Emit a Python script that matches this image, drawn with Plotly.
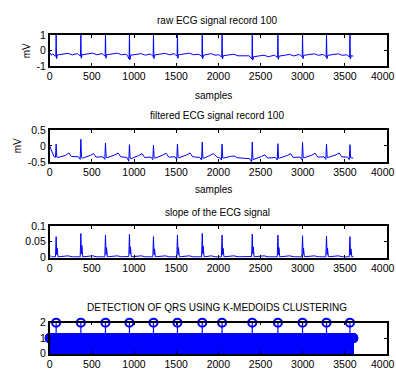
import plotly.graph_objects as go

# ---------------- data ----------------
x_ticks = [0, 500, 1000, 1500, 2000, 2500, 3000, 3500]
x_last_tick = 4000   # label sits at the figure's right edge, as in the picture
n_samples = 3600

# R-peak sample positions (QRS detections)
qrs_samples = [77, 370, 662, 946, 1231, 1515, 1809, 2044, 2402, 2706, 2998, 3282, 3560]

# raw ECG (mV), polyline vertices
raw_x = [0, 10, 20,
         37, 52, 73, 77, 82, 92, 217, 267,
         330, 345, 366, 370, 375, 385, 510, 560,
         622, 637, 658, 662, 667, 677, 802, 852,
         906, 921, 942, 946, 951, 961, 1086, 1136,
         1191, 1206, 1227, 1231, 1236, 1246, 1371, 1421,
         1475, 1490, 1511, 1515, 1520, 1530, 1655, 1705,
         1769, 1784, 1805, 1809, 1814, 1824, 1919, 1960,
         2004, 2019, 2040, 2044, 2049, 2059, 2184, 2234,
         2362, 2377, 2398, 2402, 2407, 2417, 2542, 2592,
         2666, 2681, 2702, 2706, 2711, 2721, 2846, 2896,
         2958, 2973, 2994, 2998, 3003, 3013, 3138, 3188,
         3242, 3257, 3278, 3282, 3287, 3297, 3422, 3472,
         3520, 3535, 3556, 3560, 3565, 3575, 3599]
raw_y = [-0.12, -0.28, -0.30,
         -0.22, -0.28, -0.38, 1.0, -0.52, -0.28, -0.18, -0.28,
         -0.20, -0.27, -0.36, 1.0, -0.50, -0.27, -0.17, -0.27,
         -0.20, -0.27, -0.36, 1.0, -0.50, -0.27, -0.17, -0.27,
         -0.24, -0.30, -0.55, 1.0, -0.60, -0.30, -0.20, -0.30,
         -0.22, -0.28, -0.38, 1.0, -0.52, -0.28, -0.18, -0.28,
         -0.20, -0.27, -0.36, 1.0, -0.50, -0.27, -0.17, -0.27,
         -0.24, -0.30, -0.39, 1.0, -0.53, -0.30, -0.20, -0.30,
         -0.27, -0.33, -0.42, 1.0, -0.55, -0.33, -0.24, -0.34,
         -0.34, -0.40, -0.55, 1.0, -0.62, -0.40, -0.30, -0.40,
         -0.30, -0.36, -0.44, 1.0, -0.57, -0.36, -0.25, -0.35,
         -0.25, -0.31, -0.40, 1.0, -0.53, -0.31, -0.21, -0.31,
         -0.25, -0.31, -0.40, 1.0, -0.53, -0.31, -0.21, -0.31,
         -0.27, -0.33, -0.42, 1.0, -0.55, -0.33, -0.36]

# filtered ECG (mV), polyline vertices
filt_x = [0, 30, 50,
          69, 77, 85, 97, 187, 227, 257,
          340, 362, 370, 378, 390, 480, 520, 550,
          632, 654, 662, 670, 682, 772, 812, 842,
          916, 938, 946, 954, 966, 1056, 1096, 1126,
          1201, 1223, 1231, 1239, 1251, 1341, 1381, 1411,
          1485, 1507, 1515, 1523, 1535, 1625, 1665, 1695,
          1779, 1801, 1809, 1817, 1829, 1900, 1940, 1990,
          2014, 2036, 2044, 2052, 2064, 2154, 2194, 2224,
          2372, 2394, 2402, 2410, 2422, 2512, 2552, 2582,
          2676, 2698, 2706, 2714, 2726, 2816, 2856, 2886,
          2968, 2990, 2998, 3006, 3018, 3108, 3148, 3178,
          3252, 3274, 3282, 3290, 3302, 3392, 3432, 3462,
          3530, 3552, 3560, 3568, 3580, 3599]
filt_y = [0.0, -0.20, -0.33,
          -0.36, 0.06, -0.35, -0.36, -0.30, -0.22, -0.33,
          -0.34, -0.42, 0.21, -0.36, -0.38, -0.30, -0.24, -0.35,
          -0.34, -0.42, 0.09, -0.36, -0.37, -0.28, -0.22, -0.34,
          -0.36, -0.48, 0.04, -0.38, -0.40, -0.30, -0.24, -0.36,
          -0.35, -0.43, 0.02, -0.37, -0.38, -0.29, -0.23, -0.35,
          -0.34, -0.42, 0.06, -0.36, -0.37, -0.28, -0.22, -0.34,
          -0.36, -0.44, 0.12, -0.38, -0.38, -0.30, -0.24, -0.36,
          -0.36, -0.44, 0.06, -0.38, -0.38, -0.32, -0.32, -0.37,
          -0.40, -0.50, 0.12, -0.42, -0.42, -0.33, -0.28, -0.38,
          -0.36, -0.44, 0.07, -0.38, -0.38, -0.30, -0.24, -0.36,
          -0.35, -0.43, 0.11, -0.37, -0.37, -0.29, -0.23, -0.35,
          -0.34, -0.42, 0.06, -0.36, -0.36, -0.28, -0.22, -0.34,
          -0.35, -0.43, 0.04, -0.37, -0.38, -0.38]

# slope of the ECG signal, polyline vertices
slope_x = [0, 20, 40,
           69, 77, 84, 89, 99, 217, 267,
           362, 370, 377, 382, 392, 510, 560,
           654, 662, 669, 674, 684, 802, 852,
           938, 946, 953, 958, 968, 1086, 1136,
           1223, 1231, 1238, 1243, 1253, 1371, 1421,
           1507, 1515, 1522, 1527, 1537, 1655, 1705,
           1801, 1809, 1816, 1821, 1831, 1919, 1960,
           2036, 2044, 2051, 2056, 2066, 2184, 2234,
           2394, 2402, 2409, 2414, 2424, 2542, 2592,
           2698, 2706, 2713, 2718, 2728, 2846, 2896,
           2990, 2998, 3005, 3010, 3020, 3138, 3188,
           3274, 3282, 3289, 3294, 3304, 3422, 3472,
           3552, 3560, 3567, 3572, 3582, 3599]
slope_y = [0.008, 0.003, 0.003,
           0.003, 0.066, 0.010, 0.030, 0.003, 0.006, 0.003,
           0.003, 0.076, 0.012, 0.038, 0.003, 0.006, 0.003,
           0.003, 0.071, 0.010, 0.032, 0.003, 0.006, 0.003,
           0.004, 0.073, 0.012, 0.034, 0.003, 0.006, 0.003,
           0.003, 0.066, 0.010, 0.028, 0.003, 0.006, 0.003,
           0.003, 0.071, 0.010, 0.032, 0.003, 0.006, 0.003,
           0.003, 0.076, 0.012, 0.036, 0.003, 0.006, 0.003,
           0.003, 0.071, 0.010, 0.030, 0.003, 0.006, 0.003,
           0.004, 0.074, 0.012, 0.034, 0.003, 0.006, 0.003,
           0.003, 0.071, 0.010, 0.032, 0.003, 0.006, 0.003,
           0.003, 0.069, 0.010, 0.030, 0.003, 0.006, 0.003,
           0.003, 0.068, 0.010, 0.030, 0.003, 0.006, 0.003,
           0.003, 0.066, 0.010, 0.028, 0.003, 0.004]

# K-medoids cluster label per sample: 2 = QRS, 1 = non-QRS
qrs_set = set(qrs_samples)
label_x = list(range(n_samples + 1))
label_y = [2 if s in qrs_set else 1 for s in label_x]

titles = ["raw ECG signal record 100", "filtered ECG signal record 100",
          "slope of the ECG signal", "DETECTION OF QRS USING K-MEDOIDS CLUSTERING"]

# ---------------- layout helpers ----------------
W, H = 396, 379
BLUE = "#0000FF"
FONT = "Liberation Sans, Arial, sans-serif"
TICK_SIZE = 10.5

def px_x(p):
    return p / W

def px_y(p):
    return 1 - p / H

x_dom = [px_x(47), px_x(387)]
panels_px = [(30, 62), (128, 161), (227, 260), (327, 359)]

fig = go.Figure()

fig.add_trace(go.Scatter(x=raw_x, y=raw_y, mode="lines",
                         line=dict(color=BLUE, width=1), xaxis="x", yaxis="y"))
fig.add_trace(go.Scatter(x=filt_x, y=filt_y, mode="lines",
                         line=dict(color=BLUE, width=1), xaxis="x2", yaxis="y2"))
fig.add_trace(go.Scatter(x=slope_x, y=slope_y, mode="lines",
                         line=dict(color=BLUE, width=1), xaxis="x3", yaxis="y3"))

# stem plot
stem_x, stem_y = [], []
for xv, yv in zip(label_x, label_y):
    stem_x += [xv, xv, None]
    stem_y += [0, yv, None]
fig.add_trace(go.Scatter(x=stem_x, y=stem_y, mode="lines",
                         line=dict(color=BLUE, width=1.2), xaxis="x4", yaxis="y4"))
fig.add_trace(go.Scatter(x=label_x, y=label_y, mode="markers",
                         marker=dict(symbol="circle-open", size=8, color=BLUE,
                                     line=dict(color=BLUE, width=2)),
                         cliponaxis=False, xaxis="x4", yaxis="y4"))

y_ranges = [[-1, 1], [-0.5, 0.5], [0, 0.1], [0, 2]]
y_tickvals = [[-1, 0, 1], [-0.5, 0, 0.5], [0, 0.05, 0.1], [0, 1, 2]]
y_ticktext = [["-1", "0", "1"], ["-0.5", "0", "0.5"], ["0", "0.05", "0.1"], ["0", "1", "2"]]

axis_common = dict(showline=True, linecolor="black", linewidth=1.5, mirror="ticks",
                   ticks="inside", ticklen=3, tickcolor="black", tickwidth=1,
                   showgrid=False, zeroline=False,
                   tickfont=dict(family=FONT, size=TICK_SIZE, color="black"))

layout = dict(width=W, height=H, margin=dict(l=0, r=0, t=0, b=0),
              paper_bgcolor="white", plot_bgcolor="white", showlegend=False)

for i, (top, bot) in enumerate(panels_px):
    sfx = "" if i == 0 else str(i + 1)
    layout["xaxis" + sfx] = dict(domain=x_dom, range=[0, 4000],
                                 tickvals=x_ticks + [x_last_tick],
                                 ticktext=[str(v) for v in x_ticks] + [""],
                                 anchor="y" + sfx, **axis_common)
    layout["yaxis" + sfx] = dict(domain=[px_y(bot), px_y(top)], range=y_ranges[i],
                                 tickvals=y_tickvals[i], ticktext=y_ticktext[i],
                                 anchor="x" + sfx, **axis_common)

fig.update_layout(**layout)

ann = []
title_y = [15, 113, 213, 311]
for t, yp in zip(titles, title_y):
    ann.append(dict(text=t, x=px_x(216), y=px_y(yp), xref="paper", yref="paper",
                    showarrow=False, xanchor="center", yanchor="middle",
                    font=dict(family=FONT, size=10, color="black")))
for yp in [92, 190]:
    ann.append(dict(text="samples", x=px_x(212), y=px_y(yp), xref="paper", yref="paper",
                    showarrow=False, xanchor="center", yanchor="middle",
                    font=dict(family=FONT, size=10, color="black")))
for xp, yp in [(24, 46), (15, 144)]:
    ann.append(dict(text="mV", x=px_x(xp), y=px_y(yp), xref="paper", yref="paper",
                    showarrow=False, xanchor="center", yanchor="middle", textangle=-90,
                    font=dict(family=FONT, size=10, color="black")))
# last x tick label, kept just inside the figure's right edge
for i in range(4):
    sfx = "" if i == 0 else str(i + 1)
    ann.append(dict(text=str(x_last_tick), x=px_x(395.5), xref="paper",
                    y=0, yref="y" + sfx + " domain",
                    xanchor="right", yanchor="top", yshift=-3,
                    borderpad=0, showarrow=False,
                    font=dict(family=FONT, size=TICK_SIZE, color="black")))
fig.update_layout(annotations=ann)

fig.write_html("out.html", config={"displayModeBar": False},
               post_script="document.body.style.margin='0';document.body.style.overflow='hidden';")
